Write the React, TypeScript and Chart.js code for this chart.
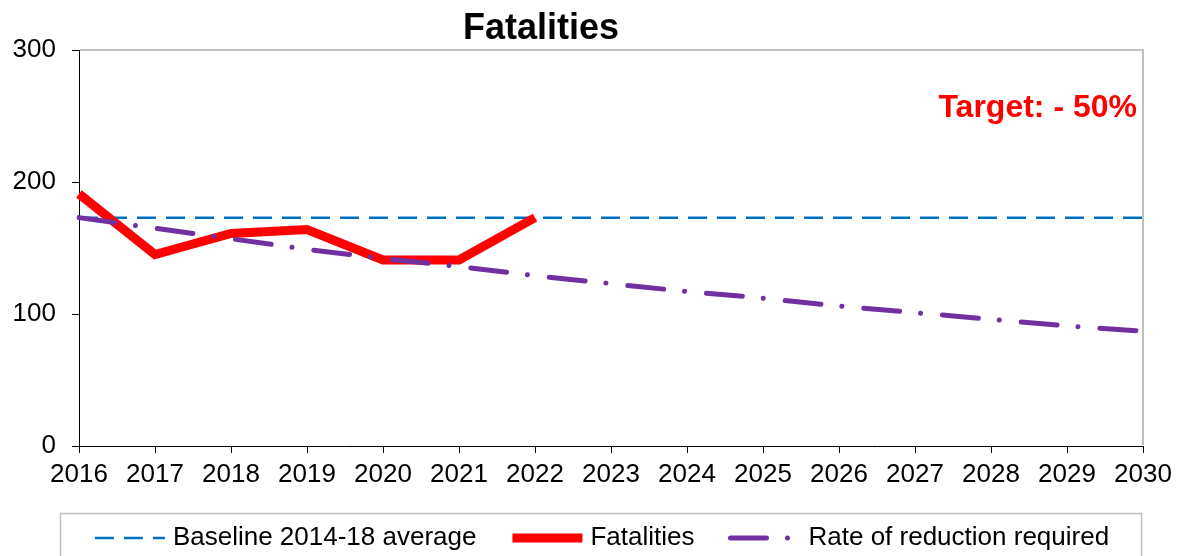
import React, { useEffect, useRef } from "react";
import { Chart, registerables } from "chart.js";

Chart.register(...registerables);

const years = ["2016","2017","2018","2019","2020","2021","2022","2023","2024","2025","2026","2027","2028","2029","2030"];
const baseline = [173,173,173,173,173,173,173,173,173,173,173,173,173,173,173];
const fatalities = [191,145,161,164,141,141,173,null,null,null,null,null,null,null,null];
const reduction = [173,165,157,149,142,136,129,123,117,112,106,101,96,91,87];
const yTicks = [0, 100, 200, 300];
const titleText = "Fatalities";
const targetText = "Target: - 50%";
const targetValue = 256;

const FONT = "'Liberation Sans', Arial, sans-serif";

const decorPlugin = {
  id: "decor",
  afterDraw(chart: any) {
    const { ctx, chartArea } = chart;
    ctx.save();
    // top/right light border
    ctx.strokeStyle = "#C0C0C0";
    ctx.lineWidth = 2;
    ctx.beginPath();
    ctx.moveTo(chartArea.left + 1, chartArea.top);
    ctx.lineTo(chartArea.right, chartArea.top);
    ctx.lineTo(chartArea.right, chartArea.bottom - 1);
    ctx.stroke();

    // title
    ctx.fillStyle = "#000";
    ctx.font = `bold 36px ${FONT}`;
    ctx.textAlign = "center";
    ctx.textBaseline = "middle";
    ctx.fillText(titleText, 541, 29);

    // target text
    ctx.fillStyle = "#FF0000";
    ctx.font = `bold 32px ${FONT}`;
    ctx.textAlign = "right";
    ctx.fillText(targetText, chartArea.right - 6, chart.scales.y.getPixelForValue(targetValue));

    // legend
    const legendTop = 513;
    const legendCenterY = 538;
    ctx.strokeStyle = "#C0C0C0";
    ctx.lineWidth = 1.5;
    ctx.strokeRect(60.5, legendTop + 0.5, 1081, 80);

    ctx.font = `26px ${FONT}`;
    ctx.textBaseline = "middle";
    ctx.textAlign = "left";
    const ds = chart.data.datasets;
    const symLen = 70;
    const gapText = 8;
    const gapItem = 36;
    const widths = ds.map((d: any) => ctx.measureText(d.label).width);
    let total = 0;
    widths.forEach((w: number, i: number) => {
      total += symLen + gapText + w + (i < widths.length - 1 ? gapItem : 0);
    });
    let x = 602 - total / 2;
    ds.forEach((d: any, i: number) => {
      ctx.save();
      ctx.strokeStyle = d.borderColor;
      ctx.lineWidth = d.borderWidth;
      ctx.lineCap = d.borderCapStyle || "butt";
      ctx.setLineDash(d.borderDash || []);
      ctx.beginPath();
      ctx.moveTo(x, legendCenterY);
      ctx.lineTo(x + symLen, legendCenterY);
      ctx.stroke();
      ctx.restore();
      ctx.fillStyle = "#000";
      ctx.fillText(d.label, x + symLen + gapText, legendCenterY);
      x += symLen + gapText + widths[i] + gapItem;
    });
    ctx.restore();
  },
};

export default function App() {
  const ref = useRef<HTMLCanvasElement | null>(null);
  useEffect(() => {
    if (!ref.current) return;
    const chart = new Chart(ref.current, {
      type: "line",
      data: {
        labels: years,
        datasets: [
          {
            label: "Baseline 2014-18 average",
            data: baseline,
            borderColor: "#0070C0",
            borderWidth: 2.5,
            borderDash: [19, 10],
            pointRadius: 0,
            order: 2,
            tension: 0,
          },
          {
            label: "Fatalities",
            data: fatalities,
            borderColor: "#FF0000",
            borderWidth: 9,
            borderJoinStyle: "miter",
            pointRadius: 0,
            order: 1,
            tension: 0,
          },
          {
            label: "Rate of reduction required",
            data: reduction,
            borderColor: "#7030A0",
            borderWidth: 5,
            borderDash: [36, 21, 0.01, 22],
            borderCapStyle: "round",
            pointRadius: 0,
            order: 0,
            tension: 0,
          },
        ],
      },
      options: {
        responsive: false,
        animation: false,
        events: [],
        layout: { padding: { top: 50, left: 0, right: 36, bottom: 70 } },
        plugins: {
          legend: { display: false },
          title: { display: false },
          tooltip: { enabled: false },
        },
        scales: {
          x: {
            type: "category",
            offset: false,
            grid: {
              display: true,
              drawOnChartArea: false,
              drawTicks: true,
              tickLength: 7,
              color: "#000",
            },
            border: { display: true, color: "#000", width: 1 },
            ticks: {
              color: "#000",
              font: { family: FONT, size: 26 },
              padding: 6,
              maxRotation: 0,
              autoSkip: false,
            },
            afterFit: (s: any) => { s.height = 40; },
          },
          y: {
            min: 0,
            max: 300,
            grid: {
              display: true,
              drawOnChartArea: false,
              drawTicks: true,
              tickLength: 7,
              color: "#000",
            },
            border: { display: true, color: "#000", width: 1 },
            ticks: {
              color: "#000",
              font: { family: FONT, size: 26 },
              padding: 16,
              stepSize: 100,
              callback: (v: any) => (yTicks.includes(Number(v)) ? String(v) : ""),
            },
            afterFit: (s: any) => { s.width = 79; },
          },
        },
      },
      plugins: [decorPlugin],
    });
    return () => chart.destroy();
  }, []);
  return (
    <div style={{ position: "fixed", left: 0, top: 0, width: 1179, height: 556, background: "#fff" }}>
      <canvas ref={ref} width={1179} height={556} style={{ display: "block" }} />
    </div>
  );
}
